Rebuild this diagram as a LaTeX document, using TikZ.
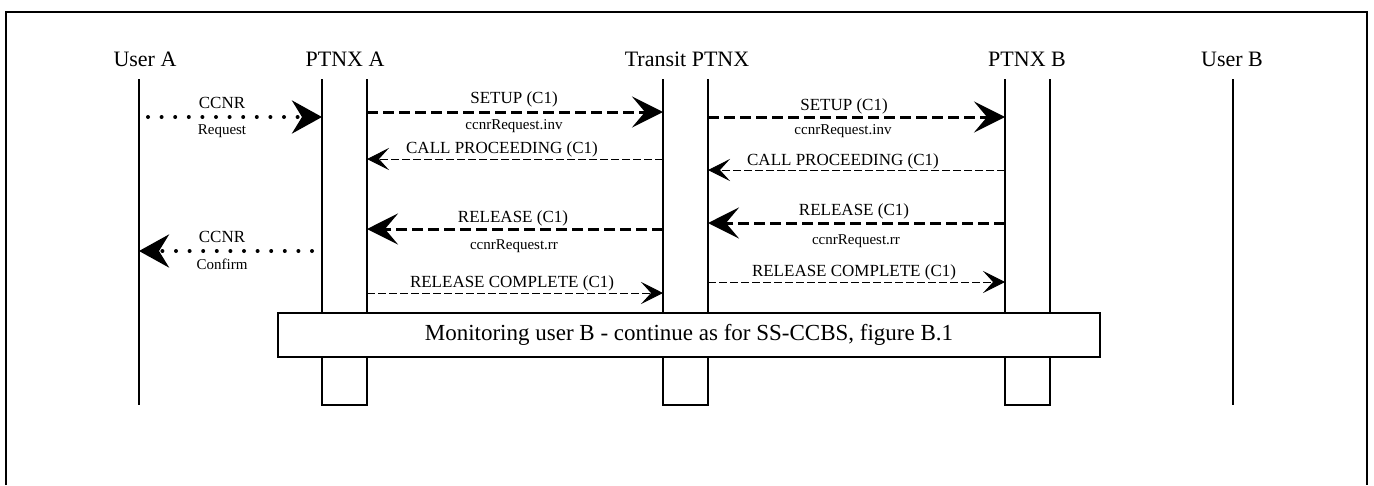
\documentclass[tikz,border=0pt]{standalone}
\usepackage{fontspec}
\setmainfont{Liberation Serif}
\usetikzlibrary{arrows.meta}

\tikzset{
    HeadText/.style={font=\fontsize{22}{26}\selectfont, anchor=base, inner sep=0pt},
    MsgText/.style={font=\fontsize{17}{20}\selectfont, anchor=base, inner sep=0pt},
    ParamText/.style={font=\fontsize{15}{18}\selectfont, anchor=base, inner sep=0pt},
    BoxText/.style={font=\fontsize{23}{28}\selectfont},
    LifeLine/.style={line width=1.6pt},
    HeavyMsg/.style={line width=3pt, dash pattern=on 11pt off 5pt, -{Stealth[length=31pt, width=31pt, inset=13pt]}},
    LightMsg/.style={line width=0.9pt, dash pattern=on 8pt off 3pt, -{Stealth[length=22pt, width=22pt, inset=10pt]}},
    DotMsg/.style={line width=4pt, line cap=round, dash pattern=on 0pt off 13.6pt, -{Stealth[length=30pt, width=33pt, inset=10pt]}}
}

\begin{document}
\begin{tikzpicture}[x=1pt, y=-1pt]
    \useasboundingbox (0,0) rectangle (1374,485);
    % outer frame, open at the bottom
    \draw[line width=2.8pt] (6,485) -- (6,12) -- (1367,12) -- (1367,485);

    % --- entities ---
    \node[HeadText] (userA)   at (145,66)  {User A};
    \node[HeadText] (ptnxA)   at (345,66)  {PTNX A};
    \node[HeadText] (transit) at (687,66)  {Transit PTNX};
    \node[HeadText] (ptnxB)   at (1027,66) {PTNX B};
    \node[HeadText] (userB)   at (1232,66) {User B};

    % --- lifelines ---
    \def\lineTop{79}
    \def\lineBot{405}
    \draw[LifeLine] (139,\lineTop) -- (139,\lineBot);
    \draw[LifeLine] (1233,\lineTop) -- (1233,\lineBot);
    \foreach \xl/\xr in {322/367, 663/708, 1005/1050}
        \draw[LifeLine] (\xl,\lineTop) -- (\xl,\lineBot) -- (\xr,\lineBot) -- (\xr,\lineTop);

    % message end points on the lifelines
    \coordinate (uaReq) at (148,117);  \coordinate (paReq) at (322,117);
    \coordinate (paSet) at (367,112);  \coordinate (tlSet) at (663,112);
    \coordinate (trSet) at (708,117);  \coordinate (pbSet) at (1005,117);
    \coordinate (tlCp)  at (663,159);  \coordinate (paCp)  at (367,159);
    \coordinate (pbCp)  at (1005,170); \coordinate (trCp)  at (708,170);
    \coordinate (tlRel) at (663,229);  \coordinate (paRel) at (367,229);
    \coordinate (pbRel) at (1005,223); \coordinate (trRel) at (708,223);
    \coordinate (paCnf) at (312,251);  \coordinate (uaCnf) at (139,251);
    \coordinate (paRc)  at (367,293);  \coordinate (tlRc)  at (663,293);
    \coordinate (trRc)  at (708,282);  \coordinate (pbRc)  at (1005,282);

    % --- CCNR request / confirm ---
    \draw[DotMsg] (uaReq) -- (paReq);
    \node[MsgText]   (reqTop) at (222,108) {CCNR};
    \node[ParamText] (reqBot) at (222,134) {Request};

    \draw[DotMsg] (paCnf) -- (uaCnf);
    \node[MsgText]   (cnfTop) at (222,242) {CCNR};
    \node[ParamText] (cnfBot) at (222,269) {Confirm};

    % --- SETUP ---
    \draw[HeavyMsg] (paSet) -- (tlSet);
    \node[MsgText]   (setA)  at (514,103) {SETUP (C1)};
    \node[ParamText] (invA)  at (514,129) {ccnrRequest.inv};
    \draw[HeavyMsg] (trSet) -- (pbSet);
    \node[MsgText]   (setB)  at (844,110) {SETUP (C1)};
    \node[ParamText] (invB)  at (843,134) {ccnrRequest.inv};

    % --- CALL PROCEEDING ---
    \draw[LightMsg] (tlCp) -- (paCp);
    \node[MsgText] (cpA) at (502,153) {CALL PROCEEDING (C1)};
    \draw[LightMsg] (pbCp) -- (trCp);
    \node[MsgText] (cpB) at (843,165) {CALL PROCEEDING (C1)};

    % --- RELEASE ---
    \draw[HeavyMsg] (tlRel) -- (paRel);
    \node[MsgText]   (relA) at (513,222) {RELEASE (C1)};
    \node[ParamText] (rrA)  at (514,249) {ccnrRequest.rr};
    \draw[HeavyMsg] (pbRel) -- (trRel);
    \node[MsgText]   (relB) at (854,215) {RELEASE (C1)};
    \node[ParamText] (rrB)  at (856,244) {ccnrRequest.rr};

    % --- RELEASE COMPLETE ---
    \draw[LightMsg] (paRc) -- (tlRc);
    \node[MsgText] (rcA) at (512,287) {RELEASE COMPLETE (C1)};
    \draw[LightMsg] (trRc) -- (pbRc);
    \node[MsgText] (rcB) at (854,276) {RELEASE COMPLETE (C1)};

    % monitoring phase
    \node[draw, line width=1.8pt, fill=white, minimum width=822pt, minimum height=44pt, BoxText] (monitor) at (689,335)
        {Monitoring user B - continue as for SS-CCBS, figure B.1};
\end{tikzpicture}
\end{document}
